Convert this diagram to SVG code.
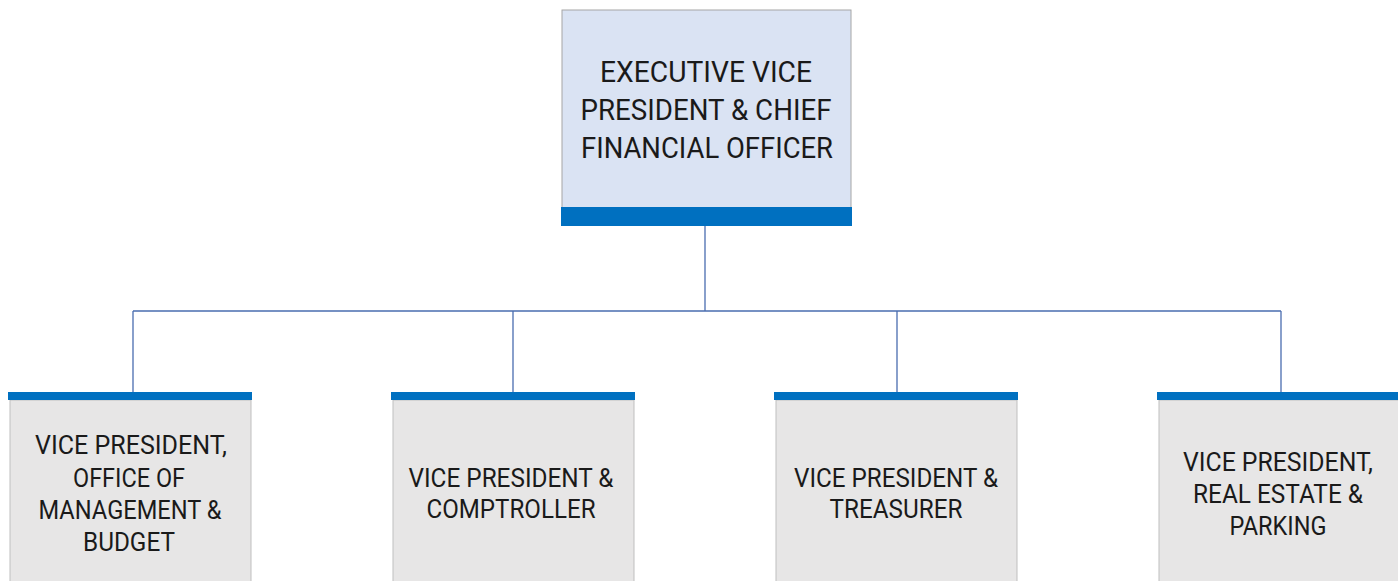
<svg xmlns="http://www.w3.org/2000/svg" width="1398" height="581" viewBox="0 0 1398 581">
<style>
.top{fill:#dae3f3;stroke:#a6a6a6;stroke-width:1}
.sub{fill:#e7e6e6;stroke:#bfbfbf;stroke-width:1}
.bar{fill:#0070c0}
.t{font-family:Roboto,"Liberation Sans",sans-serif;fill:#1a1a1a;text-anchor:middle}
.tt{font-size:29px}
.ts{font-size:26px}
.c{stroke:#4a6db0;stroke-width:1.3;fill:none}
</style>
<rect width="1398" height="581" fill="#ffffff"/>
<g id="connectors">
<path class="c" d="M705 226 V311 M133 311 H1281 M133 311 V392 M513 311 V392 M897 311 V392 M1281 311 V392"/>
</g>
<g id="cfo">
<rect class="top" x="562" y="10" width="289" height="210"/>
<rect class="bar" x="561" y="207" width="291" height="19"/>
<text class="t tt" x="706" y="82" textLength="212" lengthAdjust="spacingAndGlyphs">EXECUTIVE VICE</text>
<text class="t tt" x="706" y="120" textLength="251" lengthAdjust="spacingAndGlyphs">PRESIDENT &amp; CHIEF</text>
<text class="t tt" x="707" y="158" textLength="252" lengthAdjust="spacingAndGlyphs">FINANCIAL OFFICER</text>
</g>
<g id="omb">
<rect class="sub" x="10" y="400" width="241" height="190"/>
<rect class="bar" x="8" y="392" width="244" height="8"/>
<text class="t ts" x="131" y="454" textLength="192" lengthAdjust="spacingAndGlyphs">VICE PRESIDENT,</text>
<text class="t ts" x="129" y="487" textLength="112" lengthAdjust="spacingAndGlyphs">OFFICE OF</text>
<text class="t ts" x="130" y="519" textLength="183" lengthAdjust="spacingAndGlyphs">MANAGEMENT &amp;</text>
<text class="t ts" x="129" y="551" textLength="92" lengthAdjust="spacingAndGlyphs">BUDGET</text>
</g>
<g id="comptroller">
<rect class="sub" x="393" y="400" width="241" height="190"/>
<rect class="bar" x="391" y="392" width="244" height="8"/>
<text class="t ts" x="511" y="487" textLength="205" lengthAdjust="spacingAndGlyphs">VICE PRESIDENT &amp;</text>
<text class="t ts" x="511" y="518" textLength="169" lengthAdjust="spacingAndGlyphs">COMPTROLLER</text>
</g>
<g id="treasurer">
<rect class="sub" x="776" y="400" width="241" height="190"/>
<rect class="bar" x="774" y="392" width="244" height="8"/>
<text class="t ts" x="896" y="487" textLength="204" lengthAdjust="spacingAndGlyphs">VICE PRESIDENT &amp;</text>
<text class="t ts" x="896" y="518" textLength="133" lengthAdjust="spacingAndGlyphs">TREASURER</text>
</g>
<g id="realestate">
<rect class="sub" x="1159" y="400" width="245" height="190"/>
<rect class="bar" x="1157" y="392" width="245" height="8"/>
<text class="t ts" x="1278" y="471" textLength="190" lengthAdjust="spacingAndGlyphs">VICE PRESIDENT,</text>
<text class="t ts" x="1278" y="503" textLength="170" lengthAdjust="spacingAndGlyphs">REAL ESTATE &amp;</text>
<text class="t ts" x="1278" y="535" textLength="97" lengthAdjust="spacingAndGlyphs">PARKING</text>
</g>
</svg>
